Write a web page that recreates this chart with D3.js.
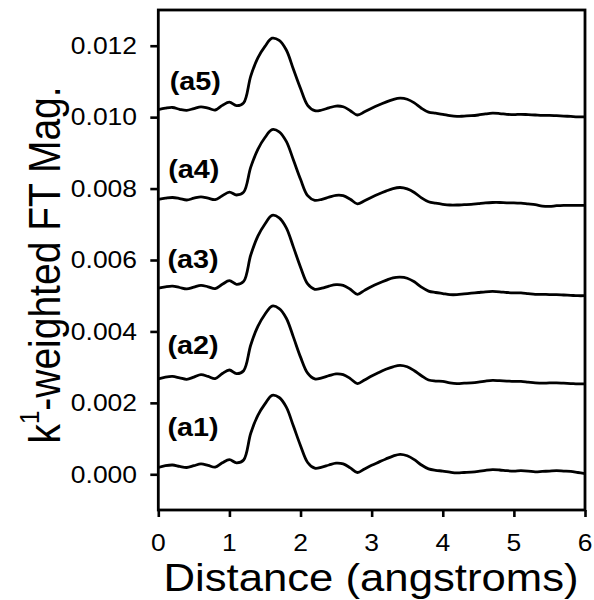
<!DOCTYPE html>
<html>
<head>
<meta charset="utf-8">
<script src="https://cdn.jsdelivr.net/npm/d3@7"></script>
<style>
  html, body { margin: 0; padding: 0; background: #fff; }
  svg { display: block; }
  text { font-family: "Liberation Sans", Arial, sans-serif; fill: #000; }
</style>
</head>
<body>
<svg id="chart" width="594" height="600"></svg>
<script>
// Radial distance grid (angstroms)
const distance = d3.range(61).map(i => +(i * 0.1).toFixed(1));

// k1-weighted FT magnitude for each sample, stacked with a vertical offset
const seriesA1 = [
  0.00019, 0.00024, 0.00026, 0.00022, 0.00019, 0.00024, 0.00029, 0.00025, 0.00020, 0.00032,
  0.00041, 0.00032, 0.00040, 0.00115, 0.00165, 0.00197, 0.00221, 0.00215, 0.00188, 0.00135,
  0.00080, 0.00033, 0.00017, 0.00020, 0.00026, 0.00031, 0.00029, 0.00018, 0.00005, 0.00015,
  0.00025, 0.00034, 0.00043, 0.00051, 0.00056, 0.00052, 0.00041, 0.00026, 0.00015, 0.00011,
  0.00009, 0.00006, 0.00004, 0.00005, 0.00006, 0.00008, 0.00011, 0.00013, 0.00012, 0.00010,
  0.00009, 0.00010, 0.00009, 0.00007, 0.00008, 0.00009, 0.00010, 0.00009, 0.00008, 0.00005,
  0.00002
];
const seriesA2 = [
  0.00267, 0.00272, 0.00274, 0.00270, 0.00266, 0.00272, 0.00279, 0.00274, 0.00268, 0.00282,
  0.00292, 0.00282, 0.00290, 0.00362, 0.00414, 0.00448, 0.00471, 0.00464, 0.00437, 0.00384,
  0.00328, 0.00283, 0.00267, 0.00270, 0.00276, 0.00281, 0.00279, 0.00268, 0.00254, 0.00264,
  0.00275, 0.00285, 0.00294, 0.00301, 0.00305, 0.00301, 0.00290, 0.00276, 0.00264, 0.00261,
  0.00260, 0.00256, 0.00254, 0.00255, 0.00256, 0.00258, 0.00261, 0.00263, 0.00262, 0.00261,
  0.00260, 0.00260, 0.00258, 0.00256, 0.00255, 0.00256, 0.00256, 0.00255, 0.00254, 0.00253,
  0.00253
];
const seriesA3 = [
  0.00521, 0.00525, 0.00527, 0.00523, 0.00519, 0.00524, 0.00529, 0.00525, 0.00520, 0.00532,
  0.00542, 0.00532, 0.00540, 0.00614, 0.00667, 0.00701, 0.00725, 0.00718, 0.00690, 0.00636,
  0.00580, 0.00533, 0.00518, 0.00521, 0.00527, 0.00531, 0.00529, 0.00518, 0.00504, 0.00515,
  0.00526, 0.00535, 0.00543, 0.00550, 0.00552, 0.00549, 0.00539, 0.00524, 0.00513, 0.00509,
  0.00506, 0.00503, 0.00503, 0.00505, 0.00507, 0.00509, 0.00511, 0.00512, 0.00511, 0.00509,
  0.00508, 0.00508, 0.00506, 0.00504, 0.00504, 0.00503, 0.00503, 0.00502, 0.00501, 0.00500,
  0.00500
];
const seriesA4 = [
  0.00770, 0.00773, 0.00775, 0.00772, 0.00768, 0.00773, 0.00777, 0.00773, 0.00769, 0.00780,
  0.00790, 0.00782, 0.00790, 0.00860, 0.00910, 0.00943, 0.00965, 0.00959, 0.00932, 0.00880,
  0.00826, 0.00780, 0.00767, 0.00770, 0.00776, 0.00781, 0.00780, 0.00770, 0.00757, 0.00766,
  0.00776, 0.00785, 0.00793, 0.00800, 0.00803, 0.00799, 0.00789, 0.00774, 0.00763, 0.00759,
  0.00756, 0.00754, 0.00754, 0.00755, 0.00756, 0.00758, 0.00760, 0.00761, 0.00761, 0.00760,
  0.00760, 0.00759, 0.00757, 0.00755, 0.00751, 0.00750, 0.00752, 0.00753, 0.00753, 0.00753,
  0.00753
];
const seriesA5 = [
  0.01021, 0.01025, 0.01027, 0.01022, 0.01019, 0.01024, 0.01029, 0.01025, 0.01020, 0.01033,
  0.01042, 0.01032, 0.01040, 0.01115, 0.01166, 0.01198, 0.01221, 0.01215, 0.01188, 0.01134,
  0.01080, 0.01033, 0.01018, 0.01020, 0.01026, 0.01031, 0.01029, 0.01018, 0.01006, 0.01015,
  0.01025, 0.01034, 0.01042, 0.01049, 0.01053, 0.01050, 0.01040, 0.01025, 0.01014, 0.01011,
  0.01008, 0.01004, 0.01002, 0.01003, 0.01004, 0.01006, 0.01009, 0.01011, 0.01010, 0.01008,
  0.01007, 0.01008, 0.01007, 0.01006, 0.01005, 0.01005, 0.01004, 0.01003, 0.01002, 0.01001,
  0.01001
];

const seriesNames = ["(a1)", "(a2)", "(a3)", "(a4)", "(a5)"];
const seriesValues = [seriesA1, seriesA2, seriesA3, seriesA4, seriesA5];
// label anchor: distance of left edge, magnitude of vertical centre
const labelX = [0.13, 0.13, 0.13, 0.14, 0.16];
const labelY = [0.00132, 0.00362, 0.00603, 0.00854, 0.01100];

const xTicks = [0, 1, 2, 3, 4, 5, 6];
const yTicks = [0.000, 0.002, 0.004, 0.006, 0.008, 0.010, 0.012];

// Layout
const plot = { left: 158.3, right: 585, top: 10, bottom: 510 };
const stretch = 1.15; // horizontal stretch applied to all text

const svg = d3.select("#chart");

const x = d3.scaleLinear().domain([0, 6]).range([plot.left, plot.right]);
const y = d3.scaleLinear().domain([-0.001, 0.013]).range([plot.bottom, plot.top]);

// Curves
const line = d3.line()
  .x((d, i) => x(distance[i]))
  .y(d => y(d))
  .curve(d3.curveCatmullRom.alpha(0.5));

svg.append("g")
  .selectAll("path")
  .data(seriesValues)
  .join("path")
  .attr("d", line)
  .attr("fill", "none")
  .attr("stroke", "#000")
  .attr("stroke-width", 2.8)
  .attr("stroke-linejoin", "round");

// Frame
svg.append("rect")
  .attr("x", plot.left).attr("y", plot.top)
  .attr("width", plot.right - plot.left)
  .attr("height", plot.bottom - plot.top)
  .attr("fill", "none")
  .attr("stroke", "#000")
  .attr("stroke-width", 2.8);

// Axes (ticks only; labels drawn separately so they can be stretched)
const xAxis = svg.append("g")
  .attr("transform", `translate(0,${plot.bottom})`)
  .call(d3.axisBottom(x).tickValues(xTicks).tickSize(7).tickFormat(""));
const yAxis = svg.append("g")
  .attr("transform", `translate(${plot.left},0)`)
  .call(d3.axisLeft(y).tickValues(yTicks).tickSize(8).tickFormat(""));
[xAxis, yAxis].forEach(g => {
  g.select(".domain").remove();
  g.selectAll(".tick line").attr("stroke", "#000").attr("stroke-width", 2.6);
});

// Tick labels
svg.append("g").selectAll("text")
  .data(xTicks)
  .join("text")
  .attr("transform", d => `translate(${x(d)},551) scale(${stretch},1)`)
  .attr("text-anchor", "middle")
  .attr("font-size", 23)
  .text(d => d3.format("d")(d));

svg.append("g").selectAll("text")
  .data(yTicks)
  .join("text")
  .attr("transform", d => `translate(137,${y(d)}) scale(${stretch},1)`)
  .attr("text-anchor", "end")
  .attr("dy", "0.36em")
  .attr("font-size", 23)
  .text(d => d3.format(".3f")(d));

// Series labels
svg.append("g").selectAll("text")
  .data(seriesNames)
  .join("text")
  .attr("transform", (d, i) => `translate(${x(labelX[i])},${y(labelY[i])}) scale(${stretch},1)`)
  .attr("dy", "0.36em")
  .attr("font-size", 25)
  .attr("font-weight", "bold")
  .text(d => d);

// Axis titles
svg.append("text")
  .attr("transform", `translate(371,591) scale(${stretch},1)`)
  .attr("text-anchor", "middle")
  .attr("font-size", 38)
  .text("Distance (angstroms)");

const yTitle = svg.append("text")
  .attr("transform", `translate(60,265) scale(${stretch},1) rotate(-90)`)
  .attr("text-anchor", "middle")
  .attr("font-size", 39);
yTitle.append("tspan").text("k");
yTitle.append("tspan").attr("font-size", 24).attr("dy", "-0.75em").text("1");
yTitle.append("tspan").attr("dy", "0.46em").attr("font-size", 39).text("-weighted FT Mag.");
</script>
</body>
</html>
